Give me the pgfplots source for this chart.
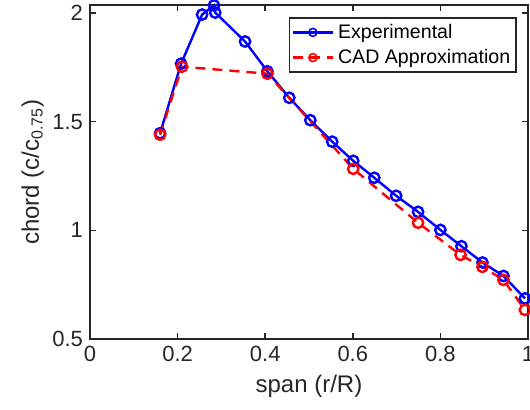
\documentclass[border=0pt]{standalone}
\usepackage{fontspec}
\setmainfont{Liberation Sans}
\usepackage{pgfplots}
\pgfplotsset{compat=1.18}
\definecolor{axgray}{RGB}{38,38,38}
\begin{document}
\begin{tikzpicture}
\begin{axis}[
  name=ax,
  scale only axis,
  width=219pt, height=167pt,
  xmin=0, xmax=1, ymin=0.5, ymax=2.037,
  xtick={0,0.2,...,1}, ytick={0.5,1,1.5,2},
  /pgf/number format/assume math mode=true,
  tick label style={font=\fontsize{11}{13}\selectfont, text=axgray},
  label style={font=\fontsize{12}{14}\selectfont, text=axgray},
  xlabel={span (r/R)},
  ylabel={chord (c/c\textsubscript{0.75})},
  ylabel style={at={(axis description cs:-0.089,0.5)}, anchor=south},
  axis line style={axgray, line width=0.9pt},
  tick style={axgray, line width=0.8pt},
  major tick length=3pt,
  tick align=inside,
  clip=false,
  legend style={at={(axis description cs:1,1)}, xshift=-5.5pt, yshift=-6pt,
    anchor=north east, font=\fontsize{9.8}{11}\selectfont,
    draw=axgray, line width=0.8pt, inner sep=1pt},
  legend cell align=left,
  legend image code/.code={\draw[mark repeat=2,mark phase=2,mark size=2pt,
    mark options={solid, line width=0.8pt}]
    plot coordinates {(0pt,0pt)(10pt,0pt)(20pt,0pt)};},
]
\addplot[blue, line width=1.2pt, mark=o, mark size=2.6pt,
  mark options={solid, line width=1.2pt}] coordinates {
  (0.160,1.447) (0.208,1.767) (0.256,1.993) (0.283,2.035) (0.286,2.002)
  (0.354,1.869) (0.405,1.732) (0.455,1.610) (0.503,1.507) (0.553,1.408)
  (0.601,1.320) (0.649,1.242) (0.699,1.159) (0.749,1.085) (0.800,1.002)
  (0.848,0.927) (0.896,0.852) (0.944,0.790) (0.993,0.687)};
\addlegendentry{Experimental}
\addplot[red, line width=1.2pt, dash pattern=on 5pt off 3.5pt, mark=o, mark size=2.6pt,
  mark options={solid, line width=1.2pt}] coordinates {
  (0.160,1.440) (0.210,1.753) (0.405,1.721) (0.601,1.283) (0.749,1.035)
  (0.846,0.887) (0.896,0.832) (0.944,0.772) (0.993,0.634)};
\addlegendentry{CAD Approximation}
\end{axis}
\pgfresetboundingbox
\path (-45pt,-35pt) rectangle (220pt,169.5pt);
\end{tikzpicture}
\end{document}
